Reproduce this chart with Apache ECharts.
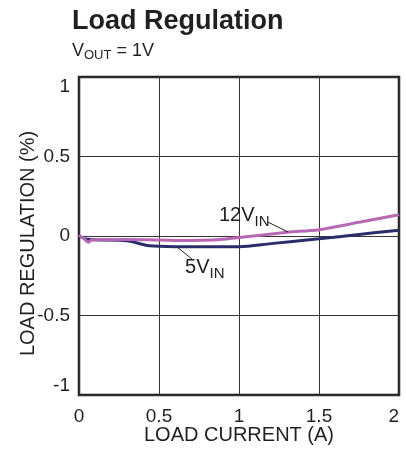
<!DOCTYPE html>
<html>
<head>
<meta charset="utf-8">
<script src="https://cdn.jsdelivr.net/npm/echarts@6/dist/echarts.min.js"></script>
<style>
  html, body { margin: 0; padding: 0; background: #fff; }
  #chart { width: 406px; height: 450px; }
</style>
</head>
<body>
<div id="chart"></div>
<script>
// load current (A) and load regulation (%)
const current12 = [0, 0.03, 0.058, 0.08, 0.3, 0.5, 0.7, 0.84, 0.92, 1.0, 1.3, 1.5, 1.75, 2.0]
const reg12 = [0.005, -0.015, -0.04, -0.025, -0.022, -0.025, -0.028, -0.025, -0.019, -0.01, 0.023, 0.04, 0.086, 0.134]
const current5 = [0, 0.05, 0.3, 0.44, 0.6, 1.0, 1.2, 1.5, 1.75, 2.0]
const reg5 = [0.0, -0.02, -0.03, -0.062, -0.067, -0.067, -0.048, -0.018, 0.01, 0.036]
const xTicks = [0, 0.5, 1, 1.5, 2]
const yTicks = [-1, -0.5, 0, 0.5, 1]

const font = 'Liberation Sans, Arial, Helvetica, sans-serif'
const ink = '#231f20'

const pairs = (xs, ys) => xs.map((x, i) => [x, ys[i]])

const subLabel = (main, sub) => ({
  formatter: '{a|' + main + '}{b|' + sub + '}',
  rich: {
    a: { fontFamily: font, fontSize: 20, color: ink, verticalAlign: 'top', lineHeight: 22 },
    b: { fontFamily: font, fontSize: 15, color: ink, verticalAlign: 'top', lineHeight: 15, padding: [9, 0, 0, 0] }
  }
})

const chart = echarts.init(document.getElementById('chart'))
const option = {
  animation: false,
  backgroundColor: '#fff',
  title: [
    {
      text: 'Load Regulation',
      left: 72,
      top: 8,
      padding: 0,
      textStyle: { fontFamily: font, fontSize: 27, fontWeight: 'bold', color: ink }
    },
    {
      text: '{a|V}{b|OUT}{a| = 1V}',
      left: 72,
      top: 42,
      padding: 0,
      textStyle: {
        rich: {
          a: { fontFamily: font, fontSize: 18, fontWeight: 'normal', color: ink, verticalAlign: 'top', lineHeight: 20 },
          b: { fontFamily: font, fontSize: 13, fontWeight: 'normal', color: ink, verticalAlign: 'top', lineHeight: 13, padding: [7, 0, 0, 0] }
        }
      }
    }
  ],
  grid: {
    left: 79,
    right: 7,
    top: 77,
    height: 318,
    outerBoundsMode: 'none',
    show: true,
    borderColor: ink,
    borderWidth: 2.5,
    backgroundColor: 'transparent'
  },
  xAxis: {
    type: 'value',
    min: 0,
    max: 2,
    interval: 0.5,
    name: 'LOAD CURRENT (A)',
    nameLocation: 'middle',
    nameMoveOverlap: false,
    nameGap: 30,
    nameTextStyle: { fontFamily: font, fontSize: 20, color: ink },
    axisLine: { show: false },
    axisTick: { show: false },
    axisLabel: {
      fontFamily: font,
      fontSize: 19,
      color: ink,
      margin: 12,
      alignMaxLabel: 'right',
      formatter: v => (xTicks.includes(v) ? String(v) : '')
    },
    splitLine: { show: true, lineStyle: { color: '#333', width: 1 } }
  },
  yAxis: {
    type: 'value',
    min: -1,
    max: 1,
    interval: 0.5,
    name: 'LOAD REGULATION (%)',
    nameLocation: 'middle',
    nameMoveOverlap: false,
    nameGap: 41,
    nameTextStyle: { fontFamily: font, fontSize: 20, color: ink, padding: [0, 15, 0, 0] },
    axisLine: { show: false },
    axisTick: { show: false },
    axisLabel: {
      fontFamily: font,
      fontSize: 19,
      color: ink,
      margin: 9,
      verticalAlignMaxLabel: 'top',
      verticalAlignMinLabel: 'bottom',
      formatter: v => (yTicks.includes(v) ? String(v) : '')
    },
    splitLine: { show: true, lineStyle: { color: '#333', width: 1 } }
  },
  series: [
    {
      name: '5VIN',
      type: 'line',
      data: pairs(current5, reg5),
      smooth: 0.3,
      symbol: 'none',
      z: 3,
      lineStyle: { color: '#2b2d6b', width: 3 },
      markLine: {
        silent: true,
        symbol: 'none',
        lineStyle: { color: ink, width: 1, type: 'solid' },
        label: { show: false },
        data: [[{ coord: [0.6125, -0.069] }, { coord: [0.706, -0.145] }]]
      },
      markPoint: {
        silent: true,
        symbol: 'circle',
        symbolSize: 0,
        data: [{ coord: [0.68, -0.135] }],
        label: Object.assign({ show: true, position: 'bottom', distance: 0, offset: [17, 0] }, subLabel('5V', 'IN'))
      }
    },
    {
      name: '12VIN',
      type: 'line',
      data: pairs(current12, reg12),
      smooth: 0.3,
      symbol: 'none',
      z: 4,
      lineStyle: { color: '#b668b4', width: 3 },
      markLine: {
        silent: true,
        symbol: 'none',
        lineStyle: { color: ink, width: 1, type: 'solid' },
        label: { show: false },
        data: [[{ coord: [1.18, 0.088] }, { coord: [1.306, 0.025] }]]
      },
      markPoint: {
        silent: true,
        symbol: 'circle',
        symbolSize: 0,
        data: [{ coord: [0.875, 0.125] }],
        label: Object.assign({ show: true, position: 'right', distance: 0 }, subLabel('12V', 'IN'))
      }
    }
  ]
}
chart.setOption(option)
</script>
</body>
</html>
